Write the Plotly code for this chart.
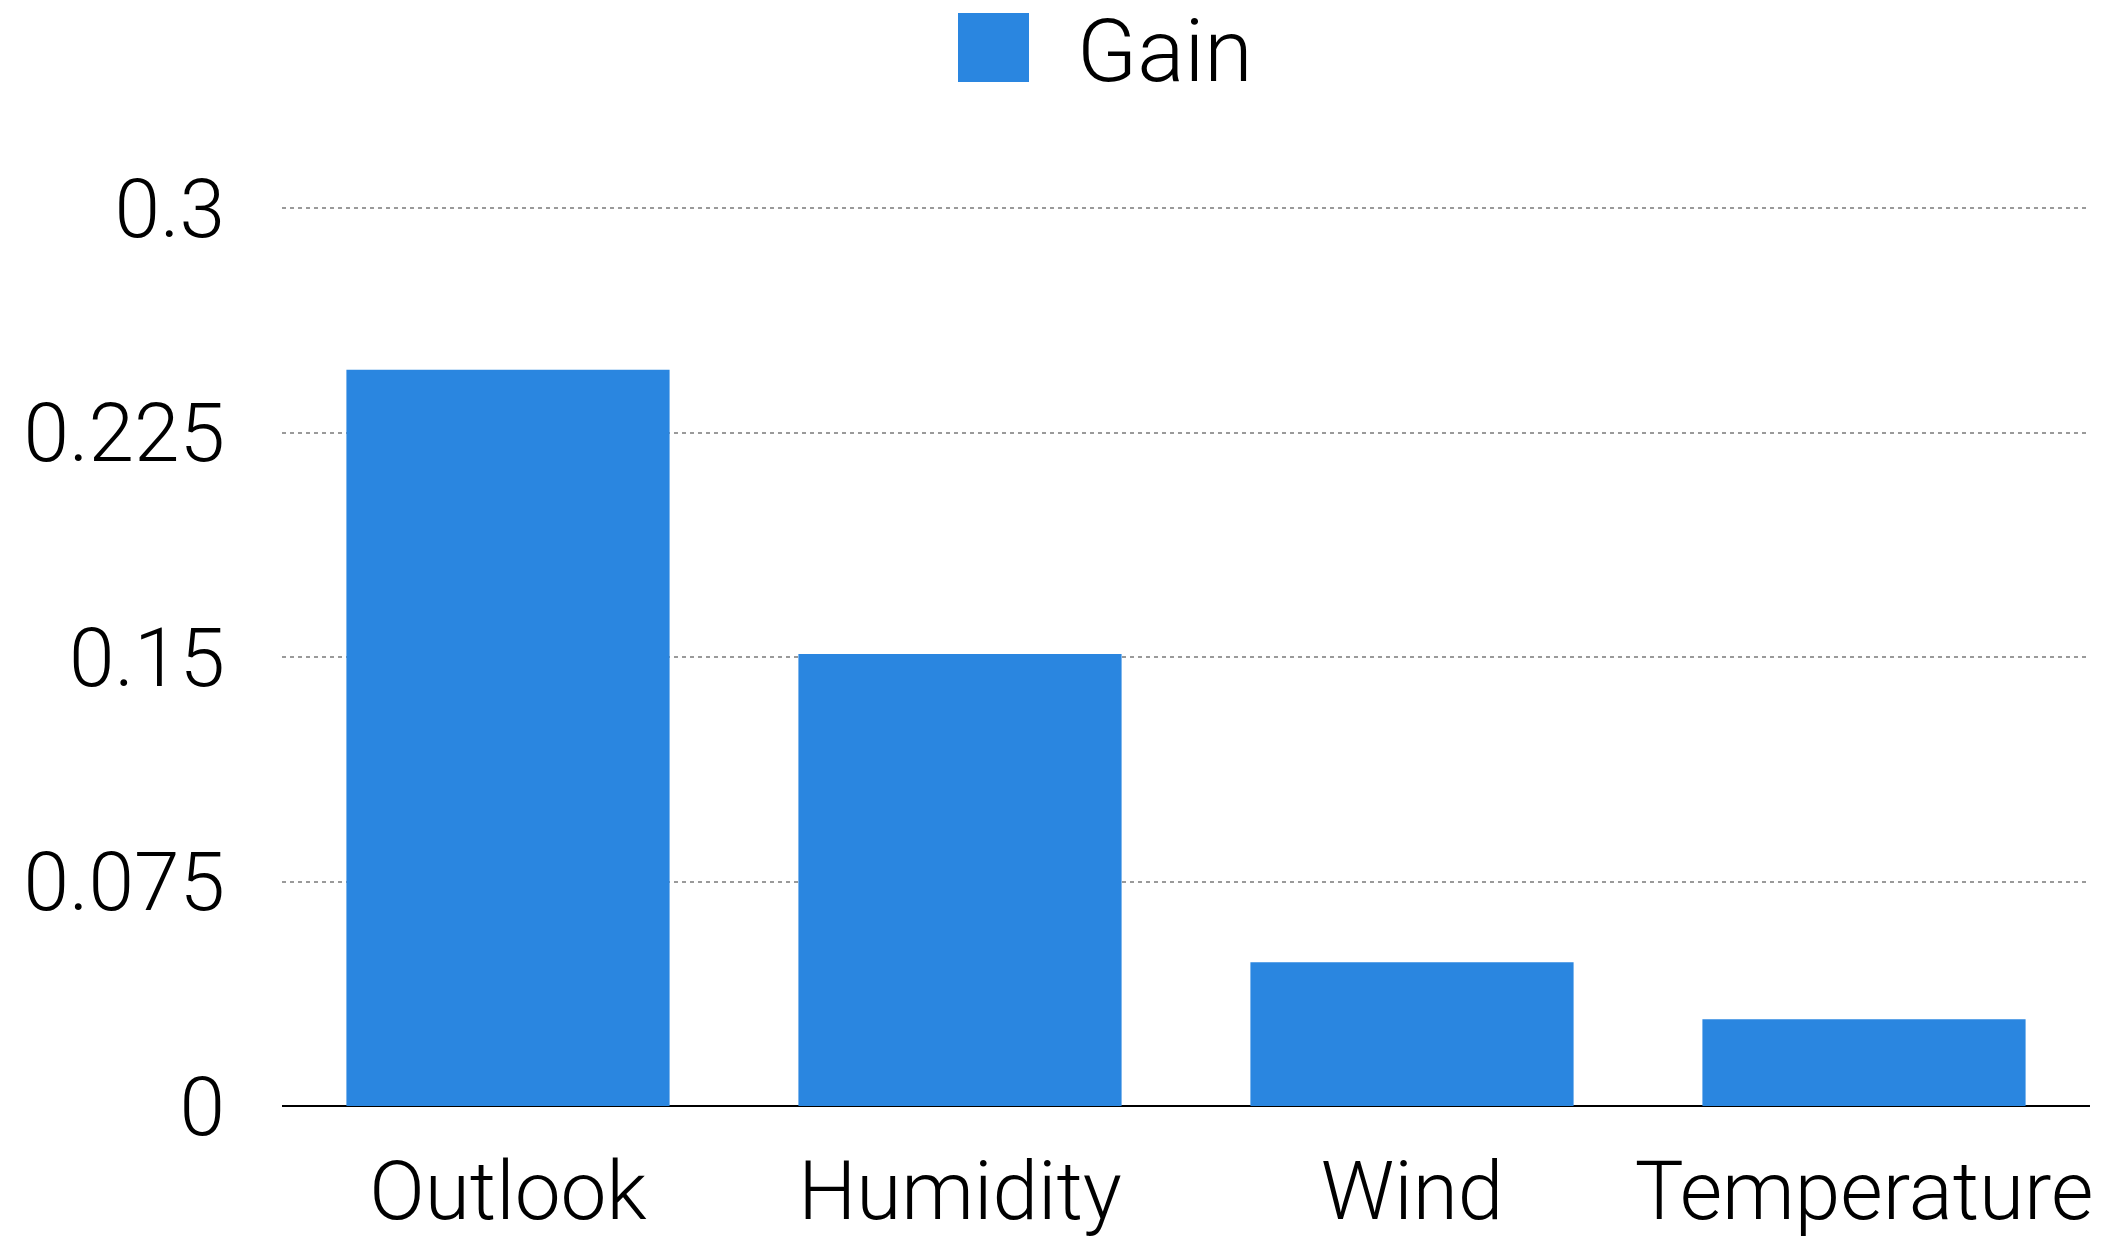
import plotly.graph_objects as go

categories = ["Outlook", "Humidity", "Wind", "Temperature"]
gain = [0.246, 0.151, 0.048, 0.029]
y_ticks = [0, 0.075, 0.15, 0.225, 0.3]
y_ticktext = ["0", "0.075", "0.15", "0.225", "0.3"]
series_name = "Gain"

FONT = dict(family="Roboto, 'Helvetica Neue', Arial, sans-serif", size=80, color="#000000", weight=300)
BAR_COLOR = "#2a86e0"

fig = go.Figure()
fig.add_trace(go.Bar(
    x=categories, y=gain, name=series_name,
    marker=dict(color=BAR_COLOR, line=dict(width=0)),
    width=0.715, showlegend=False,
))

W, H = 2103, 1238
L, R, T, B = 282, 13, 207, 132
pw, ph = W - L - R, H - T - B

def px(x):
    return (x - L) / pw

def py(y):
    return (H - B - y) / ph

fig.add_shape(type="rect", xref="paper", yref="paper",
              x0=px(958), x1=px(1029), y0=py(82), y1=py(13),
              fillcolor=BAR_COLOR, line=dict(width=0))
fig.add_annotation(text=series_name, xref="paper", yref="paper",
                   x=px(1075), y=py(50), xanchor="left", yanchor="middle",
                   showarrow=False, font=dict(FONT, size=88))

fig.update_layout(
    width=W, height=H,
    margin=dict(l=L, r=R, t=T, b=B, pad=0, autoexpand=False),
    paper_bgcolor="white", plot_bgcolor="white",
    font=FONT,
    bargap=0.285,
)
fig.update_xaxes(
    showgrid=False, showline=False, ticks="", ticklabelstandoff=30,
    tickfont=dict(FONT, size=82), automargin=False,
)
fig.update_yaxes(
    range=[0, 0.3004], tickvals=y_ticks, ticktext=y_ticktext,
    showgrid=True, gridcolor="#9a9a9a", griddash="4px,4px", gridwidth=2,
    zeroline=True, zerolinecolor="#000000", zerolinewidth=2,
    showline=False, ticks="", ticklabelstandoff=56, automargin=False,
    tickfont=dict(FONT, size=82),
)

fig.write_html("out.html")
